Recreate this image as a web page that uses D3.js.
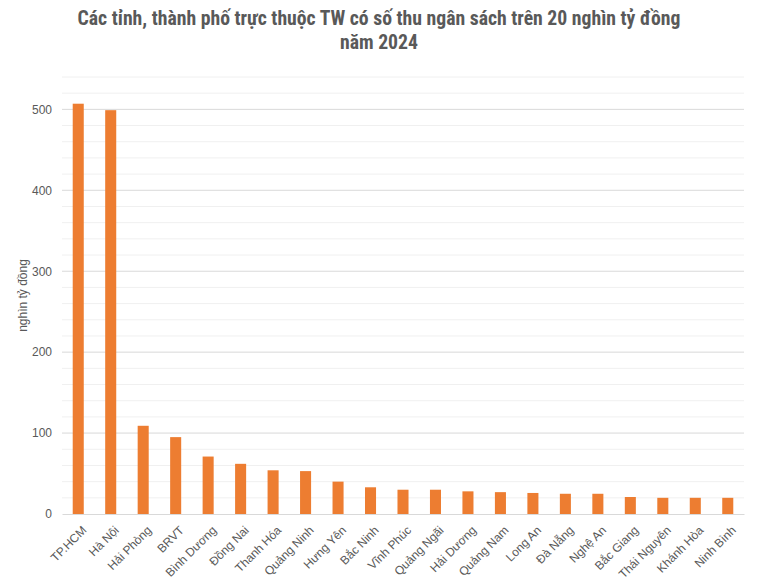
<!DOCTYPE html>
<html>
<head>
<meta charset="utf-8">
<script src="https://cdn.jsdelivr.net/npm/d3@7"></script>
<style>
  body { margin: 0; background: #fff; }
  svg text { font-family: "Liberation Sans", Arial, sans-serif; fill: #595959; }
</style>
</head>
<body>
<svg id="chart" width="757" height="585"></svg>
<script>
// data
const provinces = ["TP.HCM", "Hà Nội", "Hải Phòng", "BRVT", "Bình Dương", "Đồng Nai",
  "Thanh Hóa", "Quảng Ninh", "Hưng Yên", "Bắc Ninh", "Vĩnh Phúc", "Quảng Ngãi",
  "Hải Dương", "Quảng Nam", "Long An", "Đà Nẵng", "Nghệ An", "Bắc Giang",
  "Thái Nguyên", "Khánh Hòa", "Ninh Bình"];
const revenue = [507, 499, 109, 95, 71, 62, 54, 53, 40, 33, 30, 30, 28, 27, 26, 25, 25, 21, 20, 20, 20];
const majorTicks = [0, 100, 200, 300, 400, 500];
const titleLines = ["Các tỉnh, thành phố trực thuộc TW có số thu ngân sách trên 20 nghìn tỷ đồng", "năm 2024"];
const yLabel = "nghìn tỷ đồng";

svg = d3.select('#chart');
margin = { top: 77, right: 13, bottom: 71, left: 62 };
width = +svg.attr('width') - margin.left - margin.right;
height = +svg.attr('height') - margin.top - margin.bottom;

g = svg.append('g')
  .attr('transform', `translate(${margin.left},${margin.top})`);

y = d3.scaleLinear().domain([0, 540]).range([height, 0]);
x = d3.scaleBand().domain(provinces).range([0, width])
  .paddingInner(0.66).paddingOuter(0.33);

// minor gridlines every 20
g.append('g')
  .selectAll('line')
  .data(d3.range(20, 541, 20).filter(v => v % 100 !== 0))
  .enter().append('line')
    .attr('x1', 0).attr('x2', width)
    .attr('y1', d => y(d)).attr('y2', d => y(d))
    .attr('stroke', '#f0f0f0');

// major gridlines
g.append('g')
  .selectAll('line')
  .data(majorTicks.slice(1))
  .enter().append('line')
    .attr('x1', 0).attr('x2', width)
    .attr('y1', d => y(d)).attr('y2', d => y(d))
    .attr('stroke', '#d9d9d9');

// y axis labels
yAxis = g.append('g')
  .call(d3.axisLeft(y).tickValues(majorTicks).tickSize(0).tickPadding(10));
yAxis.select('.domain').remove();
yAxis.selectAll('text').attr('font-size', 12).style('fill', '#595959');

// bars
g.selectAll('.bar')
  .data(revenue)
  .enter().append('rect')
    .attr('class', 'bar')
    .attr('x', (d, i) => x(provinces[i]))
    .attr('y', d => y(d))
    .attr('width', x.bandwidth())
    .attr('height', d => height - y(d))
    .attr('fill', '#ed7d31');

// x axis
xAxis = g.append('g')
  .attr('transform', `translate(0,${height})`)
  .call(d3.axisBottom(x).tickSize(0).tickPadding(0));
xAxis.select('.domain').attr('stroke', '#d9d9d9');
xAxis.selectAll('text')
  .attr('font-size', 12)
  .style('fill', '#595959')
  .attr('text-anchor', 'end')
  .attr('y', 0)
  .attr('dy', 0)
  .attr('transform', 'translate(9,17) rotate(-45)');

// y axis title
svg.append('text')
  .attr('transform', `translate(27,${margin.top + height / 2}) rotate(-90)`)
  .attr('text-anchor', 'middle')
  .attr('font-size', 12)
  .text(yLabel);

// chart title, sized so the first line spans the same width as in the reference
title = svg.append('g').selectAll('text')
  .data(titleLines)
  .enter().append('text')
    .attr('x', 379)
    .attr('y', (d, i) => 25 + i * 24)
    .attr('text-anchor', 'middle')
    .attr('font-size', 18)
    .attr('font-weight', 'bold')
    .style('font-family', '"Liberation Sans Narrow", "Roboto Condensed", Roboto, sans-serif')
    .text(d => d);
natural = title.nodes()[0].getComputedTextLength();
title.attr('font-size', 18 * 603 / natural);
</script>
</body>
</html>
